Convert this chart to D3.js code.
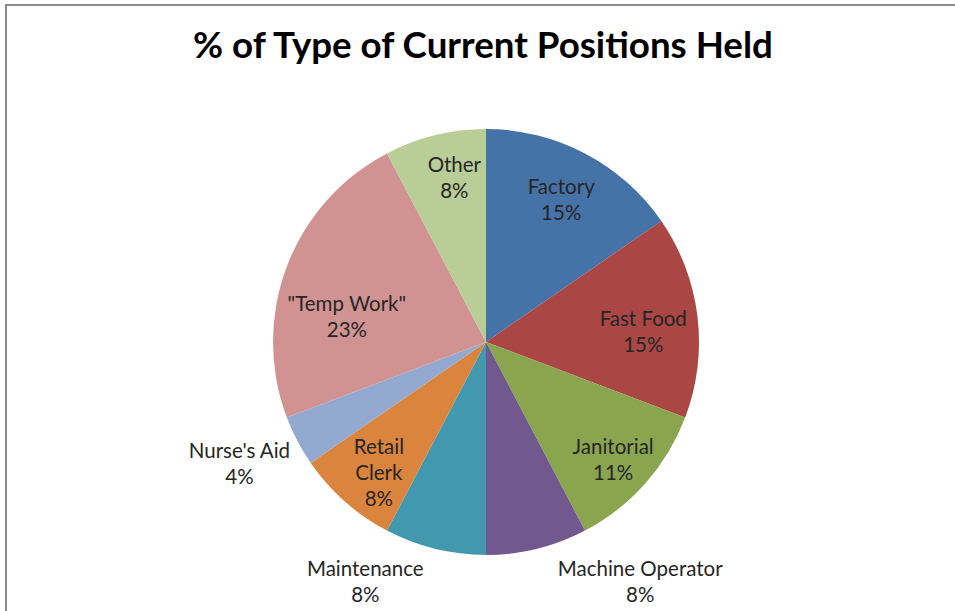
<!DOCTYPE html>
<html><head><meta charset="utf-8">
<script src="https://cdn.jsdelivr.net/npm/d3@7"></script>
<style>html,body{margin:0;padding:0;background:#fff;}svg{display:block;}</style>
</head><body>
<script>
// Data (slice sizes; labels as printed on the chart)
const categories = ["Factory","Fast Food","Janitorial","Machine Operator","Maintenance","Retail Clerk","Nurse's Aid","\"Temp Work\"","Other"];
const values = [4,4,3,2,2,2,1,6,2];
const pctLabels = ["15%","15%","11%","8%","8%","8%","4%","23%","8%"];
const colors = ["#4572a7","#aa4643","#89a54e","#71588f","#4198af","#db843d","#93a9cf","#d19392","#b9cd96"];
const labelLines = [["Factory"],["Fast Food"],["Janitorial"],["Machine Operator"],["Maintenance"],["Retail","Clerk"],["Nurse's Aid"],["\"Temp Work\""],["Other"]];
const title = "% of Type of Current Positions Held";

const W = 955, H = 611;
const svg = d3.select("body").append("svg").attr("width", W).attr("height", H);
svg.append("rect").attr("x",0).attr("y",0).attr("width",W).attr("height",H).attr("fill","#fff");
// chart frame (extends past window on right/bottom)
svg.append("rect").attr("x",6).attr("y",5).attr("width",W+10).attr("height",H+10)
  .attr("fill","none").attr("stroke","#8a8a8a").attr("stroke-width",2);

const cx = 486, cy = 342, R = 213;
const pie = d3.pie().sort(null).value(d => d)(values);
const arc = d3.arc().innerRadius(0).outerRadius(R);
const g = svg.append("g").attr("transform", `translate(${cx},${cy})`);
g.selectAll("path.slice").data(pie).join("path").attr("class","slice")
  .attr("d", arc).attr("fill", (d,i) => colors[i]);

// label placement: radial factor and angular nudge (degrees)
const place = {
  0:{k:0.76, a:0},
  1:{k:0.74, a:3},
  2:{k:0.81, a:1},
  3:{k:1.335, a:-19},
  4:{k:1.255, a:13},
  5:{k:0.79, a:-2},
  6:{k:1.29, a:1.5},
  7:{k:0.665, a:-10},
  8:{k:0.79, a:3}
};
const lineH = 26;
pie.forEach((d,i) => {
  const p = place[i];
  const mid = (d.startAngle + d.endAngle)/2 + p.a*Math.PI/180;
  const r = R * p.k;
  const x = Math.sin(mid)*r, y = -Math.cos(mid)*r + 1;
  const lines = labelLines[i].concat([pctLabels[i]]);
  const t = g.append("text").attr("text-anchor","middle")
    .attr("font-family","Lato, 'Open Sans', sans-serif").attr("font-size",20.5).attr("fill","#262626");
  const y0 = y - (lines.length-1)*lineH/2;
  lines.forEach((s,j) => {
    t.append("tspan").attr("x", x).attr("y", y0 + j*lineH).attr("dy","0.35em").text(s);
  });
});

// title
const tt = svg.append("text").attr("x", 483).attr("y", 58).attr("text-anchor","middle")
  .attr("font-family","Lato, 'Open Sans', sans-serif").attr("font-weight","bold")
  .attr("font-size",36).attr("fill","#000").text(title);
const w = tt.node().getComputedTextLength();
tt.attr("font-size", 36*580/w);
</script>
</body></html>
